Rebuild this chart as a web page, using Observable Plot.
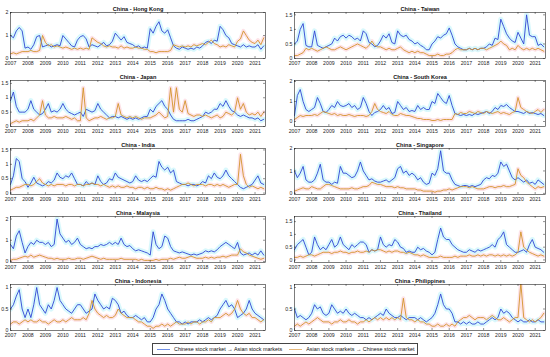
<!DOCTYPE html>
<html>
<head>
<meta charset="utf-8">
<script src="https://cdn.jsdelivr.net/npm/d3@7"></script>
<script src="https://cdn.jsdelivr.net/npm/@observablehq/plot@0.6"></script>
<style>
  html, body { margin: 0; padding: 0; background: #fff; }
  #root { position: relative; width: 550px; height: 357px; overflow: hidden; font-family: "Liberation Sans", Arial, sans-serif; }
  .cell { position: absolute; }
  .cell svg { overflow: visible; display: block; }
  #legend { position: absolute; left: 152px; top: 343px; width: 264px; height: 10px; border: 0.8px solid #444; background: #fff;
    font-size: 5.4px; color: #111; display: flex; align-items: center; white-space: nowrap; }
  #legend .sw { display: inline-block; width: 13px; height: 0; border-top: 1px solid; margin: 0 4px 0 4px; }
</style>
</head>
<body>
<div id="root"><div id="legend"></div></div>
<script>
const startYear = 2007;
const perYear = 6; // bi-monthly readings: Jan, Mar, May, Jul, Sep, Nov
const yearTicks = [2007,2008,2009,2010,2011,2012,2013,2014,2015,2016,2017,2018,2019,2020,2021];
const seriesNames = ["Chinese stock market \u2192 Asian stock markets", "Asian stock markets \u2192 Chinese stock market"];
const titles = ["China - Hong Kong","China - Taiwan","China - Japan","China - South Korea","China - India","China - Singapore","China - Malaysia","China - Thailand","China - Indonesia","China - Philippines"];

const hkBlue = [1.0,0.9,1.2,1.35,1.2,0.45, 0.5,0.4,0.6,0.95,1.0,0.5, 0.55,0.6,0.5,0.55,0.6,0.55, 1.0,0.85,0.7,0.55,0.5,0.8, 0.95,1.0,0.85,0.5,0.6,0.55, 0.5,0.6,0.7,0.55,0.6,0.75, 1.1,0.95,0.8,0.95,0.7,0.65, 0.6,0.5,0.55,0.45,0.5,0.45, 1.3,1.1,1.4,1.6,1.2,1.1, 1.25,0.9,0.55,0.45,0.4,0.5, 0.45,0.4,0.45,0.4,0.5,0.45, 0.55,0.7,0.75,0.65,0.8,0.75, 1.4,1.25,1.0,0.9,0.65,0.6, 0.55,0.5,0.6,0.5,0.55,0.5, 0.5,0.6,0.4,0.55];
const hkOrange = [0.2,0.25,0.2,0.25,0.3,0.3, 0.3,0.35,0.3,0.3,0.35,1.0, 0.7,0.55,0.6,0.5,0.55,0.5, 0.45,0.5,0.45,0.4,0.45,0.4, 0.45,0.4,0.45,0.4,0.9,0.8, 0.7,0.65,0.55,0.5,0.55,0.5, 0.5,0.45,0.55,0.45,0.5,0.45, 0.45,0.5,0.45,0.45,0.4,0.4, 0.3,0.3,0.25,0.3,0.3,0.3, 0.3,0.35,0.6,0.55,0.5,0.55, 0.5,0.55,0.5,0.6,0.55,0.6, 0.65,0.6,0.7,0.8,0.65,0.6, 0.5,0.55,0.5,0.6,0.55,0.5, 0.75,0.85,1.2,1.0,0.8,0.7, 0.65,0.8,0.6,0.9];

const twBlue = [0.5,0.6,1.0,1.2,0.45,0.4, 0.4,0.95,0.45,0.4,0.35,0.4, 0.45,0.5,0.7,0.6,0.75,0.8, 0.7,0.8,0.75,0.65,0.7,0.6, 0.95,0.85,0.55,0.5,0.4,0.45, 0.6,0.8,0.7,0.85,0.55,0.5, 0.95,0.8,0.75,0.8,0.65,0.6, 0.5,0.55,0.45,0.4,0.3,0.3, 0.5,0.6,0.75,0.7,0.8,0.85, 1.05,0.8,0.5,0.4,0.35,0.3, 0.3,0.35,0.3,0.35,0.3,0.35, 0.35,0.4,0.5,0.45,0.7,0.65, 1.35,1.1,0.85,0.7,0.6,0.55, 0.9,0.7,0.5,1.5,0.8,0.75, 0.75,0.45,0.5,0.4];
const twOrange = [0.1,0.1,0.15,0.2,0.35,0.3, 0.35,0.3,0.25,0.3,0.35,0.4, 0.35,0.3,0.3,0.35,0.4,0.35, 0.3,0.35,0.4,0.45,0.5,0.45, 0.4,0.35,0.45,0.6,0.45,0.4, 0.4,0.35,0.3,0.35,0.3,0.3, 0.35,0.4,0.3,0.25,0.2,0.25, 0.2,0.25,0.2,0.2,0.15,0.1, 0.1,0.1,0.15,0.1,0.1,0.15, 0.15,0.2,0.3,0.35,0.3,0.3, 0.3,0.35,0.3,0.35,0.3,0.35, 0.35,0.3,0.35,0.4,0.45,0.5, 0.6,0.5,0.45,0.3,0.35,0.3, 0.45,0.35,0.3,0.35,0.3,0.35, 0.3,0.35,0.3,0.25];

const jpBlue = [0.9,1.2,0.7,0.5,0.5,0.5, 0.6,0.9,0.6,0.5,0.4,0.45, 0.6,0.8,0.5,0.55,0.5,0.6, 0.8,0.6,0.5,0.45,0.4,0.45, 0.5,0.35,0.6,0.55,0.5,0.55, 0.8,0.6,0.5,0.4,0.3,0.35, 0.35,0.3,0.35,0.3,0.25,0.3, 0.25,0.3,0.25,0.3,0.35,0.35, 0.6,0.5,0.7,0.8,0.9,0.7, 0.6,0.4,0.25,0.2,0.2,0.2, 0.2,0.25,0.2,0.2,0.25,0.3, 0.35,0.5,0.45,0.5,0.6,0.6, 0.8,0.7,0.9,0.7,0.55,0.5, 0.4,0.35,0.4,0.35,0.3,0.3, 0.25,0.3,0.2,0.25];
const jpOrange = [0.1,0.15,0.2,0.15,0.2,0.2, 0.2,0.25,0.2,0.3,0.4,0.9, 0.4,0.3,0.3,0.35,0.3,0.3, 0.3,0.35,0.3,0.25,0.3,0.2, 0.2,1.35,0.3,0.2,0.25,0.3, 0.3,0.35,0.3,0.25,0.3,0.3, 0.35,0.8,0.4,0.35,0.3,0.35, 0.3,0.35,0.3,0.25,0.3,0.3, 0.3,0.35,0.4,0.5,0.4,0.3, 0.35,1.35,0.5,1.35,0.6,0.5, 0.9,0.45,0.4,0.35,0.4,0.4, 0.35,0.4,0.35,0.3,0.35,0.4, 0.3,0.35,0.5,0.45,0.4,0.5, 1.0,0.6,0.8,0.5,0.4,0.45, 0.4,0.5,0.35,0.5];

const krBlue = [0.3,1.3,1.6,1.0,0.6,0.5, 0.6,0.7,1.2,0.9,0.5,0.45, 0.6,0.8,0.7,1.0,0.8,0.75, 0.8,0.9,0.7,0.8,0.6,0.7, 1.2,0.9,0.5,0.3,0.45,0.5, 0.6,0.8,0.6,0.7,0.4,0.45, 1.0,0.8,0.6,0.7,0.5,0.55, 0.5,0.8,0.6,0.7,0.6,0.6, 1.0,0.9,1.4,1.2,1.0,0.9, 1.3,0.8,0.4,0.35,0.3,0.35, 0.3,0.35,0.3,0.4,0.35,0.4, 0.45,0.5,0.4,0.5,0.7,0.6, 0.8,0.75,0.85,0.7,0.6,0.5, 0.5,0.45,0.4,0.5,0.4,0.45, 0.4,0.35,0.4,0.3];
const krOrange = [0.1,0.2,0.3,0.25,0.3,0.3, 0.3,0.35,0.3,0.4,0.5,0.45, 0.4,0.35,0.4,0.3,0.35,0.3, 0.3,0.35,0.3,0.25,0.3,0.3, 0.3,0.25,0.3,0.5,0.9,0.6, 0.5,0.45,0.4,0.5,0.35,0.3, 0.3,0.4,0.35,0.3,0.3,0.25, 0.2,0.15,0.15,0.1,0.1,0.1, 0.05,0.05,0.1,0.05,0.1,0.1, 0.1,0.1,0.4,0.35,0.45,0.4, 0.4,0.5,0.45,0.4,0.5,0.45, 0.4,0.5,0.45,0.4,0.45,0.5, 0.4,0.45,0.4,0.35,0.45,0.5, 1.2,0.7,0.6,0.5,0.45,0.4, 0.5,0.6,0.45,0.6];

const inBlue = [0.3,0.6,1.2,1.1,0.5,0.4, 0.2,0.35,0.55,0.35,0.3,0.25, 0.3,0.4,0.35,0.45,0.7,0.55, 0.5,0.6,0.55,0.7,0.5,0.3, 0.3,0.25,0.4,0.3,0.35,0.3, 0.6,0.4,0.3,0.35,0.5,0.45, 0.7,0.55,0.5,0.45,0.4,0.35, 0.4,0.6,0.45,0.4,0.45,0.4, 0.5,0.6,0.55,1.1,0.9,0.8, 0.9,0.7,0.8,0.4,0.35,0.3, 0.3,0.25,0.3,0.3,0.25,0.3, 0.4,0.35,0.6,0.5,0.7,0.55, 0.5,0.6,0.8,0.6,0.5,0.4, 0.3,0.2,0.15,0.2,0.25,0.3, 0.45,0.6,0.35,0.3];
const inOrange = [0.1,0.15,0.2,0.2,0.25,0.3, 0.3,0.25,0.3,0.4,0.5,0.35, 0.3,0.25,0.3,0.25,0.3,0.3, 0.3,0.25,0.3,0.3,0.25,0.3, 0.3,0.25,0.3,0.3,0.35,0.3, 0.3,0.25,0.3,0.25,0.2,0.25, 0.2,0.25,0.2,0.2,0.25,0.2, 0.2,0.15,0.2,0.2,0.15,0.2, 0.15,0.15,0.2,0.15,0.15,0.1, 0.15,0.1,0.15,0.2,0.25,0.3, 0.3,0.35,0.3,0.25,0.3,0.3, 0.3,0.25,0.3,0.3,0.25,0.3, 0.25,0.3,0.25,0.2,0.25,0.3, 0.3,1.35,0.6,0.3,0.2,0.25, 0.2,0.15,0.2,0.15];

const sgBlue = [1.0,0.7,0.9,1.2,0.6,0.5, 0.5,0.6,0.9,1.3,0.6,0.5, 0.5,0.4,0.5,0.45,1.2,0.9, 0.9,0.8,0.7,0.75,1.0,1.4, 1.0,0.8,0.6,0.65,0.55,0.5, 0.5,0.55,0.6,0.5,0.6,0.7, 1.1,1.2,0.9,1.0,0.8,0.9, 0.8,0.6,0.7,0.5,0.4,0.45, 0.9,0.8,1.1,1.9,1.0,0.9, 0.9,0.6,0.4,0.35,0.3,0.35, 0.35,0.3,0.35,0.3,0.35,0.4, 0.6,0.7,0.65,0.8,0.75,0.9, 1.4,1.2,1.3,1.0,0.7,0.6, 0.7,0.6,0.5,0.6,0.45,0.5, 0.4,0.6,0.5,0.4];
const sgOrange = [0.1,0.15,0.2,0.25,0.2,0.2, 0.3,0.25,0.2,0.2,0.3,0.4, 0.4,0.35,0.3,0.25,0.2,0.2, 0.2,0.2,0.25,0.2,0.2,0.25, 0.3,0.3,0.35,0.5,0.45,0.4, 0.4,0.35,0.3,0.3,0.3,0.25, 0.3,0.25,0.25,0.2,0.2,0.2, 0.2,0.15,0.15,0.1,0.1,0.1, 0.1,0.05,0.1,0.1,0.15,0.15, 0.2,0.15,0.2,0.25,0.3,0.3, 0.3,0.25,0.3,0.25,0.2,0.2, 0.2,0.25,0.3,0.3,0.25,0.3, 0.3,0.35,0.3,0.3,0.35,0.4, 1.1,0.8,0.7,0.5,0.4,0.3, 0.2,0.3,0.25,0.3];

const myBlue = [0.8,0.6,1.2,1.45,0.9,0.4, 0.7,0.9,0.8,1.0,0.9,0.9, 0.8,0.9,0.7,0.8,2.0,1.3, 1.1,0.9,1.0,0.8,0.9,1.1, 0.8,0.7,0.6,0.65,0.6,0.7, 0.7,0.8,0.75,0.8,0.9,0.8, 0.9,0.8,1.1,0.8,0.7,0.75, 0.6,0.5,0.55,0.5,0.45,0.4, 0.3,1.4,0.8,0.6,0.7,1.2, 1.1,0.7,0.5,0.45,0.4,0.45, 0.4,0.35,0.3,0.35,0.3,0.35, 0.4,0.5,0.45,0.5,0.45,0.55, 0.7,0.8,0.9,0.8,0.7,0.6, 0.9,0.4,0.3,0.35,0.4,0.3, 0.4,0.3,0.5,0.3];
const myOrange = [0.05,0.1,0.1,0.15,0.2,0.25, 0.2,0.3,0.2,0.25,0.3,0.25, 0.2,0.15,0.15,0.1,0.15,0.1, 0.1,0.1,0.15,0.1,0.1,0.15, 0.15,0.1,0.15,0.2,0.25,0.2, 0.15,0.1,0.15,0.1,0.1,0.1, 0.1,0.1,0.15,0.1,0.1,0.1, 0.1,0.1,0.05,0.1,0.05,0.05, 0.05,0.05,0.1,0.05,0.1,0.1, 0.1,0.15,0.1,0.15,0.2,0.15, 0.15,0.2,0.25,0.2,0.15,0.15, 0.15,0.2,0.15,0.2,0.15,0.2, 0.2,0.25,0.2,0.25,0.3,0.3, 0.3,0.6,0.45,0.4,0.3,0.25, 0.2,0.15,0.1,0.15];

const thBlue = [0.4,0.6,0.7,0.8,0.5,0.2, 0.3,0.9,0.6,0.4,0.5,0.4, 0.6,0.8,0.5,0.6,0.9,0.6, 0.5,0.4,0.6,0.5,0.6,0.7, 0.7,0.6,0.3,0.4,0.35,0.4, 0.9,0.6,0.5,0.6,0.55,0.8, 0.7,0.5,0.45,0.3,0.35,0.3, 0.3,0.5,0.4,0.45,0.35,0.3, 0.2,0.3,0.8,1.25,0.9,0.8, 0.8,0.6,0.5,0.4,0.35,0.3, 0.3,0.4,0.35,0.3,0.4,0.35, 0.4,0.45,0.5,0.6,0.5,0.8, 0.9,1.1,0.6,0.5,0.4,0.3, 0.3,0.35,0.4,0.3,0.6,0.8, 0.5,0.45,0.4,0.3];
const thOrange = [0.1,0.1,0.15,0.1,0.15,0.2, 0.2,0.15,0.2,0.25,0.3,0.3, 0.3,0.25,0.3,0.3,0.35,0.3, 0.3,0.25,0.3,0.3,0.35,0.3, 0.3,0.35,0.3,0.4,0.35,0.4, 0.4,0.35,0.3,0.35,0.3,0.35, 0.35,0.3,0.3,0.25,0.3,0.25, 0.2,0.2,0.15,0.2,0.15,0.1, 0.1,0.1,0.1,0.15,0.1,0.1, 0.1,0.1,0.15,0.1,0.15,0.15, 0.15,0.2,0.15,0.15,0.2,0.15, 0.2,0.15,0.2,0.2,0.15,0.2, 0.15,0.2,0.15,0.2,0.15,0.2, 0.3,1.1,0.5,0.4,0.3,0.25, 0.2,0.15,0.2,0.15];

const idBlue = [0.5,0.6,0.8,0.95,0.5,0.3, 0.5,0.3,0.6,1.0,0.6,0.5, 0.4,0.6,0.5,0.7,1.0,0.7, 0.6,0.5,0.45,0.4,0.5,0.6, 0.6,0.5,0.4,0.45,0.5,0.85, 0.7,0.6,0.5,0.55,0.5,0.75, 0.7,0.6,0.4,0.45,0.35,0.3, 0.3,0.35,0.3,0.25,0.3,0.2, 0.2,0.3,0.5,0.6,0.85,0.7, 0.5,0.4,0.3,0.2,0.2,0.15, 0.2,0.15,0.2,0.2,0.2,0.25, 0.2,0.25,0.3,0.25,0.3,0.35, 0.5,0.6,0.7,0.55,0.6,0.5, 0.3,0.35,0.4,0.5,0.7,0.5, 0.4,0.35,0.3,0.25];
const idOrange = [0.15,0.2,0.2,0.15,0.2,0.25, 0.2,0.25,0.2,0.2,0.25,0.2, 0.2,0.15,0.2,0.25,0.2,0.2, 0.25,0.2,0.25,0.3,0.25,0.25, 0.25,0.3,0.25,0.4,0.7,0.5, 0.4,0.35,0.3,0.35,0.3,0.3, 0.35,0.5,0.4,0.35,0.3,0.3, 0.3,0.25,0.2,0.2,0.15,0.1, 0.1,0.05,0.1,0.1,0.15,0.1, 0.15,0.1,0.15,0.2,0.15,0.15, 0.15,0.2,0.15,0.2,0.2,0.15, 0.2,0.2,0.25,0.2,0.3,0.3, 0.3,0.35,0.4,0.35,0.4,0.5, 0.7,0.5,0.4,0.35,0.4,0.3, 0.3,0.25,0.2,0.25];

const phBlue = [0.5,0.3,0.35,0.3,0.25,0.3, 0.4,0.6,0.5,0.55,0.4,0.35, 0.4,0.6,0.5,0.4,0.45,0.4, 0.5,0.4,0.35,0.4,0.35,0.3, 0.3,0.25,0.3,0.25,0.3,0.35, 0.4,0.35,0.5,0.4,0.35,0.3, 0.3,0.35,0.3,0.25,0.3,0.3, 0.3,0.25,0.3,0.25,0.2,0.25, 0.3,0.4,0.6,0.85,0.6,0.5, 0.5,0.4,0.2,0.2,0.15,0.2, 0.15,0.2,0.15,0.15,0.2,0.15, 0.15,0.2,0.25,0.3,0.25,0.3, 0.5,0.4,0.45,0.4,0.3,0.25, 0.2,0.25,0.2,0.2,0.25,0.2, 0.2,0.25,0.2,0.2];
const phOrange = [0.1,0.15,0.1,0.15,0.2,0.15, 0.2,0.25,0.3,0.25,0.2,0.2, 0.2,0.15,0.2,0.2,0.25,0.2, 0.2,0.25,0.2,0.2,0.15,0.2, 0.2,0.25,0.2,0.25,0.3,0.25, 0.3,0.25,0.3,0.25,0.3,0.25, 0.3,0.25,0.75,0.3,0.25,0.25, 0.2,0.25,0.2,0.2,0.15,0.15, 0.1,0.1,0.15,0.1,0.1,0.15, 0.1,0.15,0.1,0.2,0.25,0.3, 0.3,0.35,0.3,0.25,0.3,0.3, 0.3,0.25,0.3,0.35,0.3,0.25, 0.25,0.3,0.25,0.2,0.25,0.3, 0.3,1.1,0.3,0.25,0.2,0.25, 0.2,0.25,0.3,0.4];

const yDomains = [[0,2],[0,1.58],[0,1.6],[-0.25,2.05],[-0.05,1.55],[-0.05,2.0],[-0.05,2.12],[-0.1,1.7],[0,1.07],[0,1.07]];
const yTicks = [[0,1,2],[0,0.5,1,1.5],[0,0.5,1,1.5],[0,1,2],[0,0.5,1,1.5],[0,1,2],[0,1,2],[0,0.5,1,1.5],[0,0.5,1],[0,0.5,1]];
const blues = [hkBlue,twBlue,jpBlue,krBlue,inBlue,sgBlue,myBlue,thBlue,idBlue,phBlue];
const oranges = [hkOrange,twOrange,jpOrange,krOrange,inOrange,sgOrange,myOrange,thOrange,idOrange,phOrange];

const BLUE = "#2f45d4", ORANGE = "#d4932a", BAND_B = "#d2f7fb", BAND_O = "#fde3e8", AX = "#262626";
const W = 275, H = 68, rowPitch = 68;

const root = document.getElementById("root");
for (let k = 0; k < 10; k++) {
  const col = k % 2, row = Math.floor(k / 2);
  const mL = col ? 19 : 10, mR = col ? 5 : 10, mT = 12, mB = 10;
  const fw = W - mL - mR, fh = H - mT - mB;
  const data = blues[k].map((v, i) => ({t: startYear + i / perYear, b: v, o: oranges[k][i]}));
  const svg = Plot.plot({
    width: W, height: H,
    marginTop: mT, marginBottom: mB, marginLeft: mL, marginRight: mR,
    style: {fontFamily: "Liberation Sans, Arial, sans-serif", fontSize: "5.2px", color: AX, background: "transparent", overflow: "visible"},
    x: {domain: [2007, 2021.6], ticks: yearTicks, tickFormat: d => String(d), tickSize: 0, tickPadding: 3, label: null},
    y: {domain: yDomains[k], ticks: yTicks[k], tickFormat: d => String(d), tickSize: 0, tickPadding: 2, label: null},
    marks: [
      Plot.line(data, {x: "t", y: "o", stroke: BAND_O, strokeWidth: 4, clip: true}),
      Plot.line(data, {x: "t", y: "b", stroke: BAND_B, strokeWidth: 5, strokeOpacity: 0.85, clip: true}),
      Plot.line(data, {x: "t", y: "b", stroke: BLUE, strokeWidth: 0.9, clip: true}),
      Plot.line(data, {x: "t", y: "o", stroke: ORANGE, strokeWidth: 0.9, clip: true}),
      Plot.tickX(yearTicks, {x: d => d, stroke: AX, strokeWidth: 0.5, insetTop: fh - 2}),
      Plot.tickX(yearTicks, {x: d => d, stroke: AX, strokeWidth: 0.5, insetBottom: fh - 2}),
      Plot.tickY(yTicks[k], {y: d => d, stroke: AX, strokeWidth: 0.5, insetRight: fw - 2}),
      Plot.tickY(yTicks[k], {y: d => d, stroke: AX, strokeWidth: 0.5, insetLeft: fw - 2}),
      Plot.frame({stroke: AX, strokeWidth: 0.6}),
      Plot.text([titles[k]], {frameAnchor: "top", dy: -5, fontWeight: "bold", fontSize: 5.6, fill: "#111"})
    ]
  });
  const cell = document.createElement("div");
  cell.className = "cell";
  cell.style.left = (col * W) + "px";
  cell.style.top = (row * rowPitch) + "px";
  cell.appendChild(svg);
  root.appendChild(cell);
}

const legend = document.getElementById("legend");
legend.innerHTML = `<span class="sw" style="border-color:#6f8fe6"></span><span>${seriesNames[0]}</span>` +
  `<span class="sw" style="border-color:#e6b87a;margin-left:7px"></span><span>${seriesNames[1]}</span>`;
root.appendChild(legend);
</script>
</body>
</html>
